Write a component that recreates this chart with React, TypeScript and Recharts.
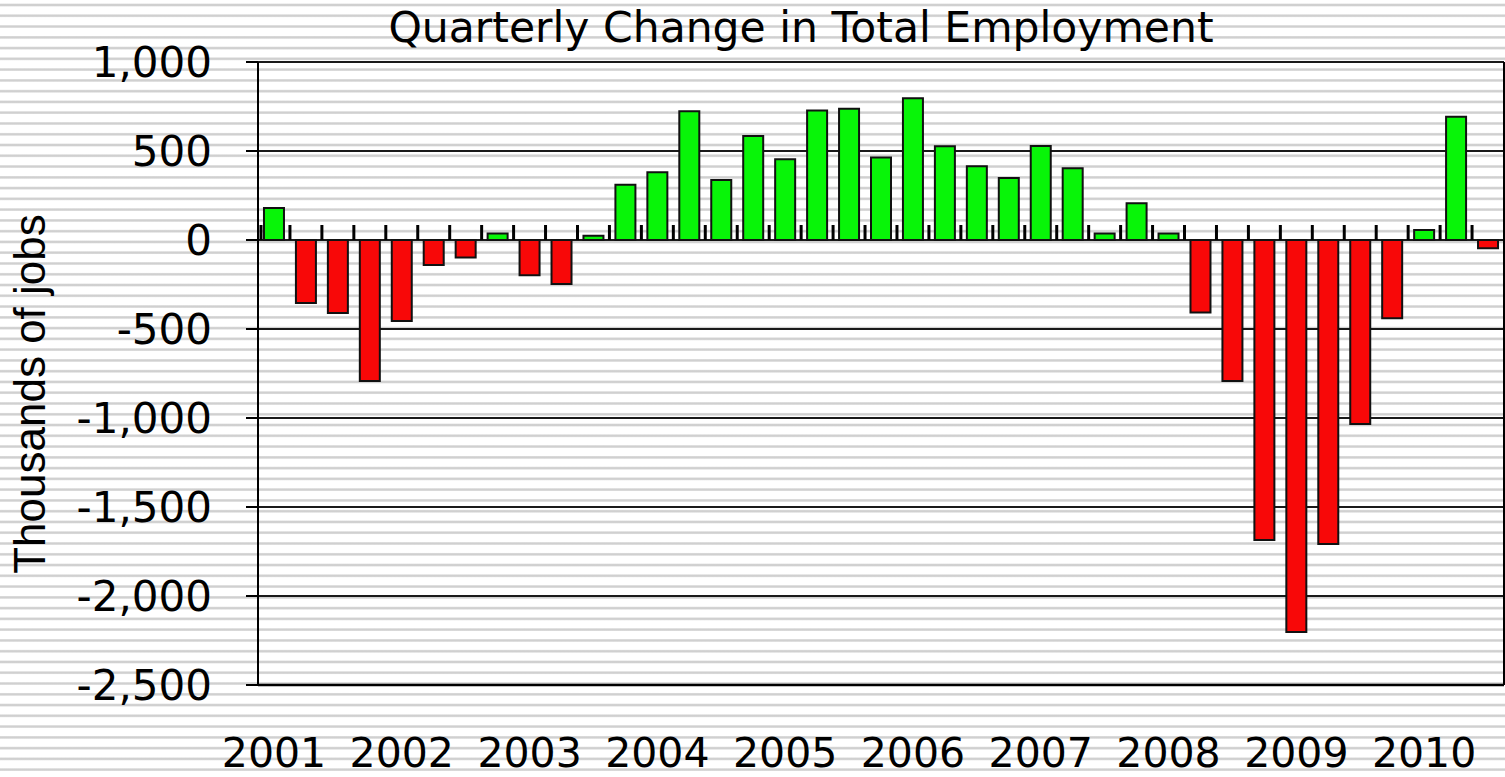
import { BarChart, Bar, Cell, XAxis, YAxis, CartesianGrid, Rectangle } from "recharts";

// quarters 2001 Q1 .. 2010 Q3, thousands of jobs
const years = [2001, 2002, 2003, 2004, 2005, 2006, 2007, 2008, 2009, 2010];
const quarters = ["Q1", "Q2", "Q3", "Q4"];
const change = [
  180, -354, -410, -792,
  -455, -140, -99, 37,
  -198, -247, 24, 311,
  380, 723, 337, 584,
  453, 727, 738, 464,
  796, 526, 414, 348,
  528, 403, 37, 206,
  37, -408, -792, -1685,
  -2202, -1708, -1034, -440,
  56, 692, -47,
];
const yTicks = [-2500, -2000, -1500, -1000, -500, 0, 500, 1000];
const yMin = yTicks[0];
const yMax = yTicks[yTicks.length - 1];

const data = change.map((v, i) => ({
  quarter: `${years[Math.floor(i / 4)]} ${quarters[i % 4]}`,
  change: v,
}));

const GAP = 18.7; // barCategoryGap in percent

const stripes =
  "repeating-linear-gradient(to bottom, #fff 0px, #fff 3.2px, #e2e2e2 3.8px, #d0d0d0 4.5px, #d0d0d0 5.5px, #e2e2e2 6.2px, #fff 6.8px, #fff 10.77px)";

// bar plus the small upward tick on the zero line at the left edge of its quarter
const BarWithTick = (p: any) => {
  const band = p.width / (1 - (2 * GAP) / 100);
  const left = p.x + p.width / 2 - band / 2;
  const v = p.payload ? p.payload.change : 0;
  const zeroY = v >= 0 ? Math.max(p.y, p.y + p.height) : Math.min(p.y, p.y + p.height);
  const first = p.payload && p.payload.quarter === data[0].quarter;
  const tx = first ? left + 3 : left;
  return (
    <g>
      <line x1={tx} y1={zeroY} x2={tx} y2={zeroY - 15} stroke="#000" strokeWidth={3} />
      <Rectangle x={p.x} y={p.y} width={p.width} height={p.height} fill={p.fill} stroke="#111" strokeWidth={2} />
    </g>
  );
};

export default function App() {
  return (
    <div style={{ position: "absolute", left: 0, top: 0, width: 1505, height: 777, background: stripes, overflow: "hidden" }}>
      <div
        style={{
          position: "absolute",
          left: 801,
          top: 7,
          transform: "translateX(-50%)",
          whiteSpace: "nowrap",
          fontFamily: "DejaVu Sans",
          fontSize: 42.5,
          lineHeight: 1,
          color: "#000",
        }}
      >
        Quarterly Change in Total Employment
      </div>
      <BarChart
        width={1505}
        height={777}
        data={data}
        barCategoryGap={`${GAP}%`}
        margin={{ top: 62, right: 0, bottom: 0, left: 0 }}
      >
        <CartesianGrid vertical={false} stroke="#1a1a1a" strokeWidth={2} />
        <XAxis
          dataKey="quarter"
          interval={0}
          height={92}
          tickLine={false}
          tickSize={0}
          tickMargin={53}
          axisLine={{ stroke: "#000", strokeWidth: 2.5 }}
          tickFormatter={(v: string) => (v.endsWith("Q1") ? v.slice(0, 4) : "")}
          tick={{ fill: "#000", fontSize: 41, fontFamily: "DejaVu Sans" }}
        />
        <YAxis
          width={258}
          domain={[yMin, yMax]}
          ticks={yTicks}
          interval={0}
          tickSize={12}
          tickMargin={34}
          tickLine={{ stroke: "#000", strokeWidth: 2 }}
          axisLine={{ stroke: "#000", strokeWidth: 2 }}
          tickFormatter={(v: number) => v.toLocaleString("en-US")}
          tick={{ fill: "#000", fontSize: 42, fontFamily: "DejaVu Sans" }}
          label={{
            content: () => (
              <text
                x={45}
                y={394}
                transform="rotate(-90 45 394)"
                textAnchor="middle"
                fontFamily="Liberation Sans"
                fontSize={44}
                fill="#000"
              >
                Thousands of jobs
              </text>
            ),
          }}
        />
        <YAxis
          yAxisId="r"
          orientation="right"
          width={1}
          domain={[yMin, yMax]}
          tick={false}
          tickLine={false}
          axisLine={{ stroke: "#000", strokeWidth: 2 }}
        />
        <Bar dataKey="change" shape={BarWithTick} isAnimationActive={false}>
          {data.map((d, i) => (
            <Cell key={i} fill={d.change >= 0 ? "#08f508" : "#f80808"} />
          ))}
        </Bar>
      </BarChart>
    </div>
  );
}
